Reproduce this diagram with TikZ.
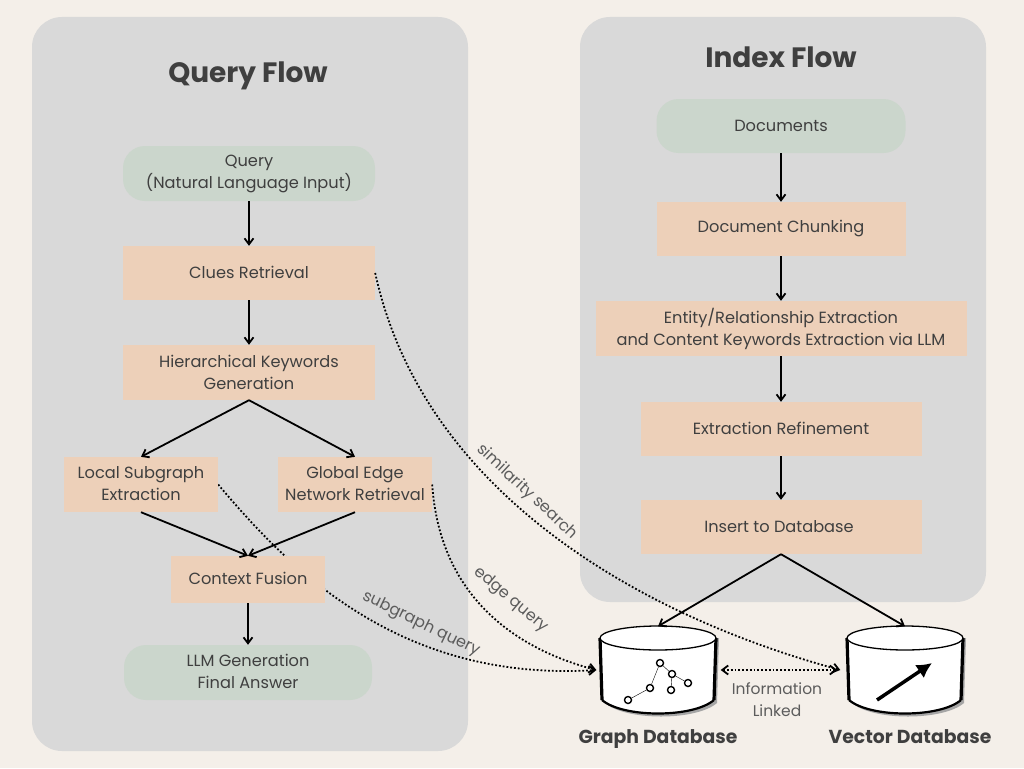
\documentclass[tikz,border=0pt]{standalone}
\usepackage{fontspec}
\setmainfont{Poppins}
\usetikzlibrary{backgrounds,arrows.meta}

\definecolor{pagecol}{HTML}{F4EFE9}
\definecolor{panelcol}{HTML}{D9D9D9}
\definecolor{stepcol}{HTML}{EDD0B9}
\definecolor{endcol}{HTML}{CBD6CC}
\definecolor{inkcol}{HTML}{3F3F3F}

\tikzset{
	>={Straight Barb[length=6pt, width=9pt]},
	boxtext/.style={font=\fontsize{16.2}{22}\selectfont, text=inkcol, align=center, inner sep=0pt},
	stepbox/.style={boxtext, fill=stepcol},
	endbox/.style={boxtext, fill=endcol, rounded corners=22pt},
	panel/.style={fill=panelcol, rounded corners=30pt},
	flowline/.style={->, line width=1.8pt, black},
	dotline/.style={->, line width=1.8pt, dash pattern=on 1.8pt off 2pt, black},
	curvelabel/.style={font=\fontsize{16}{18}\selectfont, text=inkcol!85, inner sep=0pt},
	title/.style={anchor=base, font=\fontsize{28}{30}\selectfont\bfseries, text=inkcol, inner sep=0pt},
	dbtitle/.style={anchor=base, font=\fontsize{18.8}{22}\selectfont\bfseries, text=inkcol, inner sep=0pt},
	dbnode/.style={minimum width=117pt, minimum height=87pt, inner sep=0pt},
	icondot/.style={circle, draw=black, fill=white, line width=1.4pt, minimum size=7pt, inner sep=0pt},
	pics/dbdrum/.style={code={
		\fill[black!35] (-55,-32) -- (-53,33) .. controls (-32,51) and (38,51) .. (59,33) -- (61,-32) -- cycle;
		\fill[white] (-58,-32) -- (-56,30) .. controls (-35,48) and (35,48) .. (56,30) -- (58,-32) -- cycle;
		\draw[line width=2.2pt] (-56,30) .. controls (-35,48) and (35,48) .. (56,30);
		\draw[line width=3.2pt] (-58,-32) -- (-56,30);
		\draw[line width=3.2pt] (58,-32) -- (56,30);
		\draw[line width=1.3pt, fill=white] (0,-32) ellipse (58 and 12);
	}},
}

\begin{document}
\begin{tikzpicture}[x=1pt, y=-1pt]
	\useasboundingbox (0,0) rectangle (1024,768);

	% Fundo e painéis
	\begin{scope}[on background layer]
		\fill[pagecol] (0,0) rectangle (1024,768);
		\fill[panel] (32,17) rectangle (468,751);
		\fill[panel] (580,17) rectangle (986,602);
	\end{scope}

	\node[title] (querytitle) at (248,82) {Query Flow};
	\node[title] (indextitle) at (781,67) {Index Flow};

	% Query Flow
	\node[endbox, minimum width=252pt, minimum height=55pt] (query) at (249,173.5) {\raisebox{-1pt}{Query}\\\raisebox{-1pt}{(Natural Language Input)}};
	\node[stepbox, minimum width=252pt, minimum height=54pt] (clues) at (249,273) {\raisebox{1.5pt}{Clues Retrieval}};
	\node[stepbox, minimum width=252pt, minimum height=55pt] (keywords) at (249,372.5) {\raisebox{1pt}{Hierarchical Keywords}\\\raisebox{1pt}{Generation}};
	\node[stepbox, minimum width=154pt, minimum height=55pt] (local) at (141,484.5) {\raisebox{2pt}{Local Subgraph}\\\raisebox{2pt}{Extraction}};
	\node[stepbox, minimum width=154pt, minimum height=55pt] (global) at (355,484.5) {\raisebox{2pt}{Global Edge}\\\raisebox{2pt}{Network Retrieval}};
	\node[stepbox, minimum width=154pt, minimum height=47pt] (fusion) at (248,579.5) {\raisebox{1.5pt}{Context Fusion}};
	\node[endbox, minimum width=248pt, minimum height=55pt] (answer) at (248,672.5) {\raisebox{1.5pt}{LLM Generation}\\\raisebox{1.5pt}{Final Answer}};

	% Index Flow
	\node[endbox, minimum width=249pt, minimum height=54pt] (documents) at (781,126) {Documents};
	\node[stepbox, minimum width=249pt, minimum height=54pt] (chunking) at (781,229) {Document Chunking};
	\node[stepbox, minimum width=371pt, minimum height=55pt] (entity) at (781,328.5) {\raisebox{1pt}{Entity/Relationship Extraction}\\\raisebox{1pt}{and Content Keywords Extraction via LLM}};
	\node[stepbox, minimum width=281pt, minimum height=54pt] (refine) at (781,429) {\raisebox{1.5pt}{Extraction Refinement}};
	\node[stepbox, minimum width=281pt, minimum height=54pt] (insert) at (781,527) {\raisebox{1.5pt}{Insert to Database}\hspace{4pt}};

	% Bancos de dados
	\node[dbnode] (graphdb) at (658,670) {};
	\node[dbnode] (vectordb) at (905,670) {};
	\pic at (graphdb.center) {dbdrum};
	\pic at (vectordb.center) {dbdrum};
	\node[dbtitle] (graphlabel) at (658,743) {Graph Database};
	\node[dbtitle] (vectorlabel) at (910,743) {Vector Database};
	\node[curvelabel, align=center, font=\fontsize{15.5}{22}\selectfont] (linked) at (777,700) {Information\\Linked};

	% Ícone do grafo
	\node[icondot] (g1) at (660,663) {};
	\node[icondot] (g2) at (672,674) {};
	\node[icondot] (g3) at (688,683) {};
	\node[icondot] (g4) at (671,690) {};
	\node[icondot] (g5) at (650,688) {};
	\node[icondot] (g6) at (628,700) {};
	\draw (g1) -- (g2);
	\draw (g2) -- (g3);
	\draw (g2) -- (g4);
	\draw (g1) -- (g5);
	\draw (g5) -- (g6);

	% Ícone do vetor
	\coordinate (v1) at (877,700);
	\coordinate (v2) at (932,663);
	\draw[-{Latex[length=15pt, width=16pt]}, line width=3.5pt] (v1) -- (v2);

	% Setas
	\draw[flowline] (query) -- (clues);
	\draw[flowline] (clues) -- (keywords);
	\draw[flowline] (keywords.south) -- (local.north);
	\draw[flowline] (keywords.south) -- (global.north);
	\draw[flowline] (local.south) -- (fusion.north);
	\draw[flowline] (global.south) -- (fusion.north);
	\draw[flowline] (fusion) -- (answer);
	\draw[flowline] (documents) -- (chunking);
	\draw[flowline] (chunking) -- (entity);
	\draw[flowline] (entity) -- (refine);
	\draw[flowline] (refine) -- (insert);
	\draw[flowline] (insert.south) -- (graphdb.north);
	\draw[flowline] (insert.south) -- (vectordb.north);

	% Linhas pontilhadas
	\begin{scope}[on background layer]
		\draw[dotline] (local.east) .. controls (290,570) and (400,682) .. ([xshift=-3pt]graphdb.west);
	\end{scope}
	\draw[dotline] (global.east) .. controls (440,600) and (520,650) .. ([xshift=-3pt]graphdb.west);
	\draw[dotline] (clues.east) .. controls (420,480) and (620,610) .. ([xshift=-6pt]vectordb.west);
	\draw[dotline, <->] ([xshift=4pt]graphdb.east) -- ([xshift=-9pt]vectordb.west);

	% Rótulos das curvas
	\node[curvelabel, rotate=-43] (simlabel) at (527,492) {similarity search};
	\node[curvelabel, rotate=-40] (edgelabel) at (511,600) {edge query};
	\node[curvelabel, rotate=-26] (sublabel) at (421,624) {subgraph query};
\end{tikzpicture}
\end{document}
